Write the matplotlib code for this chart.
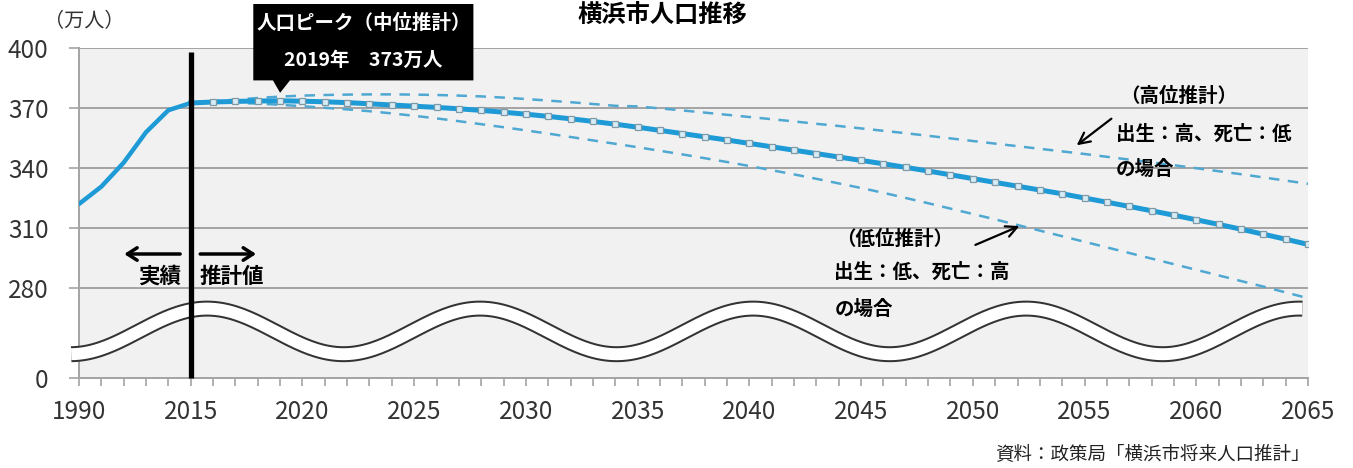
import matplotlib
matplotlib.use('Agg')
import matplotlib.pyplot as plt
from matplotlib.patches import Polygon
import numpy as np

plt.rcParams['font.family'] = ['Noto Sans CJK JP', 'DejaVu Sans']

# categories on the x axis: 5-year steps up to 2015, then yearly
cat_years = [1990, 1995, 2000, 2005, 2010] + list(range(2015, 2066))

# actual population (万人)
actual_years = [1990, 1995, 2000, 2005, 2010, 2015]
actual_pop = [322.0, 330.7, 342.7, 357.9, 368.9, 372.5]

# projections 2015-2065 (万人)
proj_years = list(range(2015, 2066))
mid_pop = [372.5, 373.0, 373.3, 373.5, 373.6, 373.4, 373.1, 372.7, 372.1, 371.5,
           370.9, 370.3, 369.6, 368.8, 367.9, 366.9, 365.8, 364.6, 363.3, 361.9,
           360.4, 358.8, 357.2, 355.6, 354.0, 352.3, 350.6, 348.9, 347.2, 345.5,
           343.8, 342.1, 340.3, 338.5, 336.6, 334.7, 332.8, 330.9, 329.0, 327.1,
           325.0, 322.9, 320.8, 318.6, 316.4, 314.1, 311.8, 309.4, 306.9, 304.4,
           301.8]
high_pop = [372.5, 373.3, 374.2, 375.0, 375.7, 376.2, 376.5, 376.7, 376.8, 376.8,
            376.7, 376.5, 376.2, 375.8, 375.2, 374.5, 373.7, 372.9, 372.0, 371.1,
            370.8, 369.8, 368.8, 367.7, 366.6, 365.5, 364.4, 363.3, 362.1, 361.0,
            359.8, 358.6, 357.4, 356.1, 354.8, 353.5, 352.2, 350.9, 349.6, 348.3,
            347.0, 345.6, 344.2, 342.8, 341.4, 339.9, 338.4, 336.9, 335.3, 333.7,
            332.1]
low_pop = [372.5, 372.7, 372.6, 372.2, 371.6, 370.9, 370.1, 369.3, 368.4, 367.3,
           366.1, 364.8, 363.4, 361.9, 360.4, 358.8, 357.2, 355.5, 353.8, 352.1,
           350.4, 348.6, 346.8, 344.9, 343.0, 341.0, 338.9, 336.8, 334.6, 332.3,
           330.0, 327.6, 325.0, 322.4, 319.7, 317.0, 314.3, 311.5, 308.7, 305.9,
           303.1, 300.3, 297.5, 294.7, 291.9, 289.1, 286.3, 283.5, 280.7, 277.8,
           274.9]

y_ticks = [280, 310, 340, 370, 400]
y_bottom = 235          # broken axis: bottom of the plot is labelled 0
peak_year = 2019

W, H = 1353, 468
fig = plt.figure(figsize=(W / 100, H / 100), dpi=100)
ax = fig.add_axes([79 / W, 1 - 378 / H, (1308 - 79) / W, (378 - 48) / H])
ax.set_facecolor('#f1f1f1')

pos = {y: i for i, y in enumerate(cat_years)}
xa = [pos[y] for y in actual_years]
xp = [pos[y] for y in proj_years]

blue = '#1e9ad6'
dash_blue = '#4fa8d2'
ax.plot(xp, high_pop, color=dash_blue, lw=1.8, dashes=(4.2, 3.4), zorder=3)
ax.plot(xp, low_pop, color=dash_blue, lw=1.8, dashes=(4.2, 3.4), zorder=3)
ax.plot(xa, actual_pop, color=blue, lw=3.2, solid_capstyle='round', zorder=4)
ax.plot(xp, mid_pop, color=blue, lw=3.6, zorder=4,
        marker='s', markersize=5, markerfacecolor='#d6ecf6',
        markeredgecolor='#7f9aa6', markeredgewidth=0.9, markevery=slice(1, None))

# wavy break band
wx = np.linspace(-0.35, 54.75, 600)
wy = 258.3 + 11.4 * np.sin(2 * np.pi * (wx - 5.73) / 12.22 + np.pi / 2)
ax.plot(wx, wy, color='#333333', lw=11.5, solid_capstyle='butt', zorder=5, clip_on=False)
ax.plot(wx, wy, color='white', lw=8.6, solid_capstyle='butt', zorder=6, clip_on=False)

# 2015 divider
ax.plot([pos[2015], pos[2015]], [y_bottom, 398.2], color='black', lw=3.8, zorder=8,
        solid_capstyle='butt', clip_on=False)

ax.set_xlim(0, len(cat_years) - 1)
ax.set_ylim(y_bottom, 400)
ax.set_yticks([y_bottom] + y_ticks)
ax.set_yticklabels(['0'] + [str(v) for v in y_ticks])
ax.set_xticks(range(len(cat_years)))
ax.set_xticklabels([str(y) if i % 5 == 0 else '' for i, y in enumerate(cat_years)])
for v in y_ticks:
    ax.axhline(v, color='#a3a3a3', lw=1.4, zorder=1)
ax.tick_params(axis='y', length=7, width=1.2, color='#a3a3a3', labelsize=17.5,
               labelcolor='#333333', pad=15)
ax.tick_params(axis='x', length=6, width=1.2, color='#a3a3a3', labelsize=17.5,
               labelcolor='#333333', pad=9)
for s in ['top', 'right']:
    ax.spines[s].set_visible(False)
for s in ['left', 'bottom']:
    ax.spines[s].set_color('#a3a3a3')
    ax.spines[s].set_linewidth(1.4)

# callout for the peak
px = pos[peak_year]
box = Polygon([(7.8, 422), (17.65, 422), (17.65, 383.8), (px + 0.44, 383.8),
               (px, 377.6), (px - 0.32, 383.8), (7.8, 383.8)],
              closed=True, facecolor='black', edgecolor='none', zorder=9, clip_on=False)
ax.add_patch(box)
ax.text(12.73, 412.5, '人口ピーク（中位推計）', color='white', fontsize=14, fontweight='bold',
        ha='center', va='center', zorder=10)
ax.text(12.73, 394.0, '2019年　373万人', color='white', fontsize=14, fontweight='bold',
        ha='center', va='center', zorder=10)

# 実績 / 推計値 arrows
arrow_kw = dict(arrowstyle='->,head_length=0.7,head_width=0.45', color='black', lw=2.5)
ax.annotate('', xy=(1.9, 297), xytext=(4.65, 297), arrowprops=arrow_kw, zorder=9)
ax.annotate('', xy=(8.05, 297), xytext=(5.3, 297), arrowprops=arrow_kw, zorder=9)
ax.text(3.62, 285.8, '実績', fontsize=15.5, fontweight='bold', ha='center', va='center', zorder=9)
ax.text(6.82, 285.8, '推計値', fontsize=15.5, fontweight='bold', ha='center', va='center', zorder=9)

# high / low notes
thin = dict(arrowstyle='->,head_length=0.8,head_width=0.4', color='black', lw=1.6)
note = dict(fontsize=14, fontweight='bold', ha='left', va='center')
ax.text(46.6, 375.8, '（高位推計）', **note)
ax.text(46.4, 357.0, '出生：高、死亡：低', **note)
ax.text(46.4, 339.3, 'の場合', **note)
ax.annotate('', xy=(44.55, 350.5), xytext=(46.3, 365.5), arrowprops=thin)
ax.text(33.9, 304.5, '（低位推計）', **note)
ax.text(33.8, 287.8, '出生：低、死亡：高', **note)
ax.text(33.8, 269.5, 'の場合', **note)
ax.annotate('', xy=(42.2, 311.5), xytext=(40.0, 301.0), arrowprops=thin)

fig.text(662 / W, 1 - 16 / H, '横浜市人口推移', fontsize=17.5, fontweight='bold',
         ha='center', va='center')
fig.text(44 / W, 1 - 22 / H, '（万人）', fontsize=14.5, ha='left', va='center', color='#333333')
fig.text(1310 / W, 1 - 455 / H, '資料：政策局「横浜市将来人口推計」', fontsize=13.3,
         ha='right', va='center', color='#222222')

fig.savefig('out.png', dpi=100)
